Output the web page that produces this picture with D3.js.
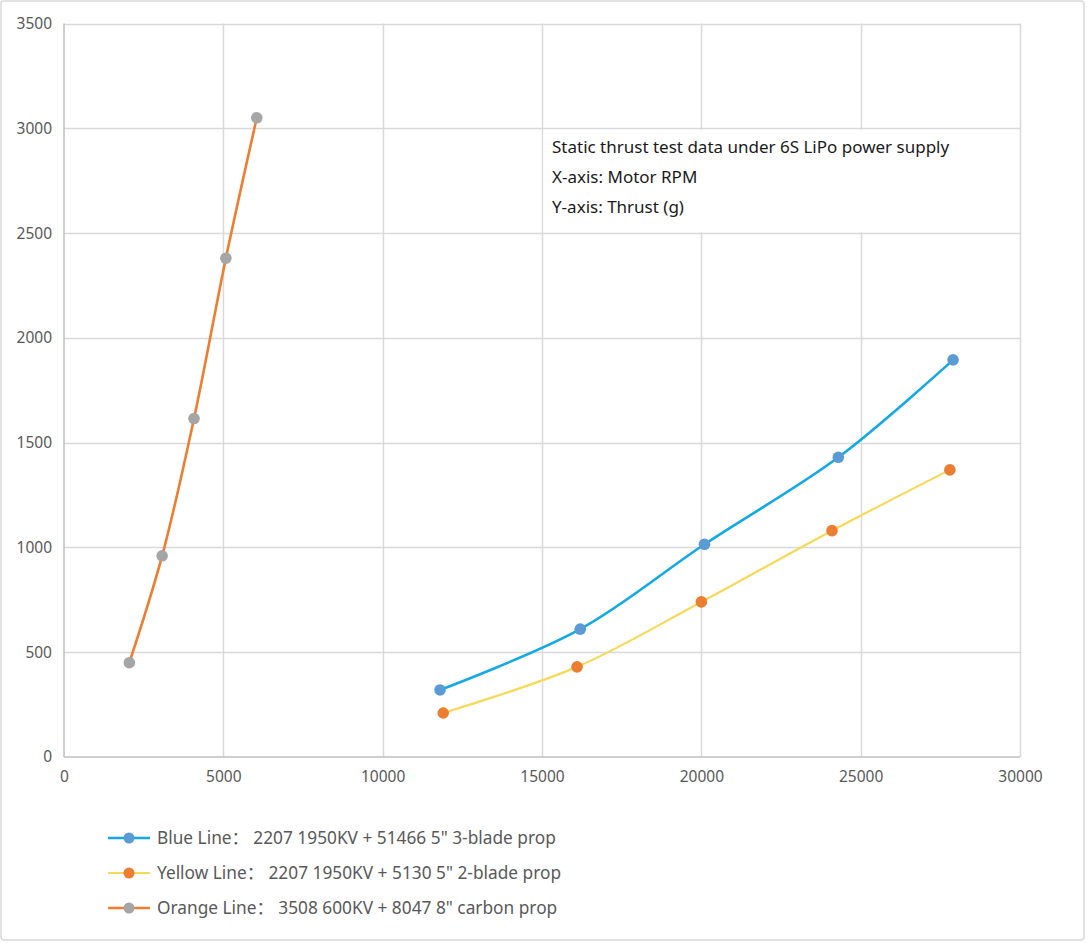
<!DOCTYPE html>
<html>
<head>
<meta charset="utf-8">
<script src="https://cdn.jsdelivr.net/npm/d3@7"></script>
<style>
  html, body { margin: 0; padding: 0; background: #fff; }
  svg { display: block; }
  text { font-family: "Noto Sans", "Noto Sans CJK SC", sans-serif; }
</style>
</head>
<body>
<svg id="chart" width="1088" height="943"></svg>
<script>
// ---- data ----
const blueRPM    = [11800, 16200, 20100, 24300, 27900];
const blueThrust = [320, 610, 1015, 1430, 1895];
const yellowRPM    = [11900, 16100, 20000, 24100, 27800];
const yellowThrust = [210, 430, 740, 1080, 1370];
const orangeRPM    = [2050, 3080, 4080, 5080, 6050];
const orangeThrust = [450, 960, 1615, 2380, 3050];
const xTicks = [0, 5000, 10000, 15000, 20000, 25000, 30000];
const yTicks = [0, 500, 1000, 1500, 2000, 2500, 3000, 3500];
const legendLabels = [
  "Blue Line\uFF1A  2207 1950KV + 51466 5\" 3-blade prop",
  "Yellow Line\uFF1A  2207 1950KV + 5130 5\" 2-blade prop",
  "Orange Line\uFF1A  3508 600KV + 8047 8\" carbon prop"
];
const noteLines = [
  "Static thrust test data under 6S LiPo power supply",
  "X-axis: Motor RPM",
  "Y-axis: Thrust (g)"
];

const series = [
  { xs: blueRPM, ys: blueThrust, line: "#13a9e3", marker: "#5b9bd5", width: 2.6, label: legendLabels[0] },
  { xs: yellowRPM, ys: yellowThrust, line: "#f7d95a", marker: "#ed7d31", width: 2.2, label: legendLabels[1] },
  { xs: orangeRPM, ys: orangeThrust, line: "#ed7d31", marker: "#a5a5a5", width: 2.6, label: legendLabels[2] }
];

const svg = d3.select("#chart");
// outer frame
svg.append("rect").attr("x", 1).attr("y", 1).attr("width", 1083).attr("height", 939)
  .attr("rx", 3).attr("fill", "#fff").attr("stroke", "#d9d9d9").attr("stroke-width", 1.5);

const pLeft = 64, pRight = 1020, pTop = 23.5, pBottom = 757;
const x = d3.scaleLinear().domain([0, 30000]).range([pLeft, pRight]);
const y = d3.scaleLinear().domain([0, 3500]).range([pBottom, pTop]);

const grid = svg.append("g");
grid.selectAll("line.h").data(yTicks.filter(d => d > 0)).join("line")
  .attr("x1", pLeft).attr("x2", pRight)
  .attr("y1", d => Math.round(y(d)) + 0.5).attr("y2", d => Math.round(y(d)) + 0.5)
  .attr("stroke", "#d9d9d9").attr("stroke-width", 1.5);
grid.selectAll("line.v").data(xTicks.filter(d => d > 0)).join("line")
  .attr("y1", pTop).attr("y2", pBottom)
  .attr("x1", d => Math.round(x(d)) + 0.5).attr("x2", d => Math.round(x(d)) + 0.5)
  .attr("stroke", "#d9d9d9").attr("stroke-width", 1.5);

// axes lines
svg.append("line").attr("x1", pLeft).attr("x2", pRight).attr("y1", pBottom).attr("y2", pBottom)
  .attr("stroke", "#bfbfbf").attr("stroke-width", 1.5);
svg.append("line").attr("x1", pLeft).attr("x2", pLeft).attr("y1", pTop).attr("y2", pBottom)
  .attr("stroke", "#bfbfbf").attr("stroke-width", 1.5);

// tick labels via axes
const yAxis = svg.append("g").attr("transform", `translate(${pLeft},0)`)
  .call(d3.axisLeft(y).tickValues(yTicks).tickFormat(d3.format("d")).tickSize(0).tickPadding(12));
const xAxis = svg.append("g").attr("transform", `translate(0,${pBottom})`)
  .call(d3.axisBottom(x).tickValues(xTicks).tickFormat(d3.format("d")).tickSize(0).tickPadding(14));
[yAxis, xAxis].forEach(a => {
  a.select(".domain").remove();
  a.selectAll("text").attr("fill", "#595959").style("font-size", "15.5px")
    .style("font-family", "'Noto Sans', sans-serif");
});

// note box (covers gridlines)
svg.append("rect").attr("x", x(15000) + 1.5).attr("y", y(3000) + 1.5)
  .attr("width", pRight - x(15000) - 2.5).attr("height", y(2500) - y(3000) - 2.5)
  .attr("fill", "#fff");
svg.append("g").selectAll("text").data(noteLines).join("text")
  .attr("x", 552).attr("y", (d, i) => 153 + i * 30)
  .attr("fill", "#1a1a1a").style("font-size", "17px").text(d => d);

const lineGen = d3.line().x(d => x(d[0])).y(d => y(d[1])).curve(d3.curveCatmullRom.alpha(0.5));

series.forEach(s => {
  const pts = s.xs.map((v, i) => [v, s.ys[i]]);
  svg.append("path").datum(pts).attr("d", lineGen)
    .attr("fill", "none").attr("stroke", s.line).attr("stroke-width", s.width);
  svg.append("g").selectAll("circle").data(pts).join("circle")
    .attr("cx", d => x(d[0])).attr("cy", d => y(d[1])).attr("r", 5.8)
    .attr("fill", s.marker);
});

// legend
const leg = svg.append("g");
series.forEach((s, i) => {
  const cy = 838 + i * 35;
  leg.append("line").attr("x1", 108).attr("x2", 150).attr("y1", cy).attr("y2", cy)
    .attr("stroke", s.line).attr("stroke-width", s.width);
  leg.append("circle").attr("cx", 129).attr("cy", cy).attr("r", 5.5).attr("fill", s.marker);
  leg.append("text").attr("x", 157).attr("y", cy).attr("dy", "0.35em")
    .attr("fill", "#595959").style("font-size", "17.3px").text(s.label);
});
</script>
</body>
</html>
